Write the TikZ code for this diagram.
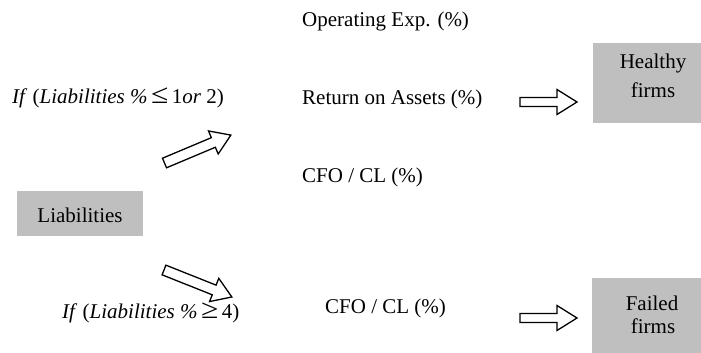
\documentclass[tikz,border=0pt]{standalone}
\usepackage{fontspec}
\usepackage{graphicx}
\setmainfont{Liberation Serif}
\newcommand{\bigrel}[1]{\,\scalebox{1.5}[1.3]{#1}\,}
\begin{document}
\begin{tikzpicture}[x=1pt,y=-1pt,
  txt/.style={anchor=base west,inner sep=0pt,font=\fontsize{21}{25}\selectfont},
  ctxt/.style={anchor=base,inner sep=0pt,font=\fontsize{21}{25}\selectfont},
  graybox/.style={fill=black!25,draw=none},
  barrow/.style={draw=black,line width=1.3pt,fill=white,line join=miter}]
\useasboundingbox (0,0) rectangle (701,353);
% boxes
\fill[graybox] (17,191) rectangle (143,236);
\node[ctxt] (liab) at (80,222) {Liabilities};
\fill[graybox] (593,43) rectangle (701,123);
\node[ctxt] (h1) at (653,68) {Healthy};
\node[ctxt] (h2) at (653,97) {firms};
\fill[graybox] (592,278) rectangle (701,353);
\node[ctxt] (f1) at (652,310) {Failed};
\node[ctxt] (f2) at (653,333) {firms};
% texts
\node[txt] (opex) at (302,27) {Operating Exp. (\%)};
\node[txt] (roa) at (302,104) {Return on Assets (\%)};
\node[txt] (cfo1) at (302,182) {CFO / CL (\%)};
\node[txt] (cfo2) at (325,313) {CFO / CL (\%)};
\node[txt] (if1) at (12,103) {\textit{If} (\textit{Liabilities \%}\bigrel{≤}1\textit{or} 2)};
\node[txt] (if2) at (62,318) {\textit{If} (\textit{Liabilities \%}\bigrel{≥}4)};
% horizontal arrows
\draw[barrow] (520,97.5) -- (557,97.5) -- (557,89.5) -- (577,102) -- (557,114.5) -- (557,106.5) -- (520,106.5) -- cycle;
\draw[barrow] (520,313.5) -- (557,313.5) -- (557,305.5) -- (577,318) -- (557,330.5) -- (557,322.5) -- (520,322.5) -- cycle;
% diagonal arrows
\begin{scope}[shift={(164.5,163)},rotate=22.8]
\draw[barrow] (0,-5.2) -- (53,-5.2) -- (53,-12.5) -- (72,0) -- (53,12.5) -- (53,5.2) -- (0,5.2) -- cycle;
\end{scope}
\begin{scope}[shift={(164,270)},rotate=-21.7]
\draw[barrow] (0,-5.2) -- (54,-5.2) -- (54,-12.5) -- (73,0) -- (54,12.5) -- (54,5.2) -- (0,5.2) -- cycle;
\end{scope}
\end{tikzpicture}
\end{document}
